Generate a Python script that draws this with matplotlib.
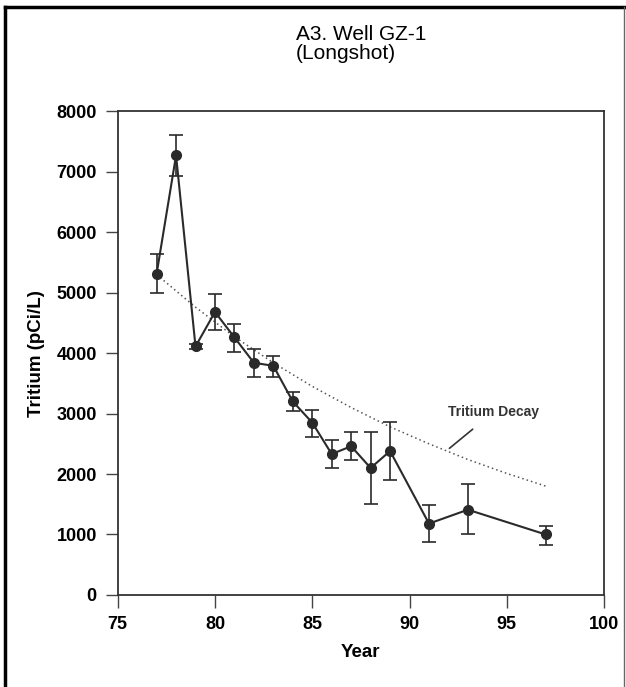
import numpy as np
import matplotlib.pyplot as plt
from matplotlib.lines import Line2D

plt.rcParams['font.family'] = ['Liberation Sans', 'DejaVu Sans']

# measured tritium, Well GZ-1
years = [77, 78, 79, 80, 81, 82, 83, 84, 85, 86, 87, 88, 89, 91, 93, 97]
tritium = [5310, 7270, 4110, 4680, 4260, 3840, 3790, 3200, 2850, 2330, 2460, 2100, 2380, 1180, 1410, 1000]
err_hi = [5640, 7600, 4150, 4970, 4480, 4070, 3960, 3350, 3060, 2570, 2695, 2695, 2860, 1495, 1835, 1145]
err_lo = [4990, 6930, 4070, 4390, 4020, 3600, 3600, 3050, 2620, 2100, 2225, 1510, 1905, 870, 1000, 830]

# decay curve
decay_years = [77, 79, 81, 83, 85, 87, 89, 91, 93, 95, 97]
decay_vals = [5300, 4760, 4270, 3840, 3450, 3100, 2780, 2500, 2240, 2010, 1800]

xticks = [75, 80, 85, 90, 95, 100]
yticks = [0, 1000, 2000, 3000, 4000, 5000, 6000, 7000, 8000]

ink = '#2a2a2a'

fig = plt.figure(figsize=(6.26, 6.87), dpi=100)
ax = fig.add_axes([0.188, 0.134, 0.777, 0.704])

y = np.array(tritium)
yerr = [y - np.array(err_lo), np.array(err_hi) - y]

ax.plot(decay_years, decay_vals, linestyle=(0, (1, 2)), color='#555555', lw=1.1)
ax.errorbar(years, tritium, yerr=yerr, fmt='o-', color=ink, ecolor=ink,
            elinewidth=1.2, capsize=5, capthick=1.2, markersize=7, lw=1.5)

ax.set_xlim(75, 100)
ax.set_ylim(0, 8000)
ax.set_xticks(xticks)
ax.set_yticks(yticks)
ax.tick_params(direction='out', length=9, width=1, color='#444444', pad=6,
               labelsize=13, top=False, right=False)
for lab in ax.get_xticklabels() + ax.get_yticklabels():
    lab.set_fontweight('bold')
for s in ax.spines.values():
    s.set_color('#333333')
    s.set_linewidth(1.3)

ax.set_xlabel('Year', fontsize=13.5, fontweight='bold', labelpad=8)
ax.set_ylabel('Tritium (pCi/L)', fontsize=13.5, fontweight='bold', labelpad=8)

ax.set_title('A3. Well GZ-1\n(Longshot)', fontsize=15, loc='center',
             multialignment='left', pad=38, linespacing=1.0)

ax.annotate('Tritium Decay', xy=(92.05, 2425), xytext=(94.3, 3020),
            ha='center', va='center', fontsize=10, fontweight='bold', color='#333333',
            arrowprops=dict(arrowstyle='-', color='#333333', lw=1.2,
                            shrinkA=8, shrinkB=0))

# frame around the scanned page
fig.add_artist(Line2D([0.008, 0.008], [0, 0.99], transform=fig.transFigure, color='black', lw=2.5))
fig.add_artist(Line2D([0.008, 0.997], [0.99, 0.99], transform=fig.transFigure, color='black', lw=2.5))
fig.add_artist(Line2D([0.997, 0.997], [0, 0.99], transform=fig.transFigure, color='#666666', lw=1))

fig.savefig('out.png', dpi=100)
